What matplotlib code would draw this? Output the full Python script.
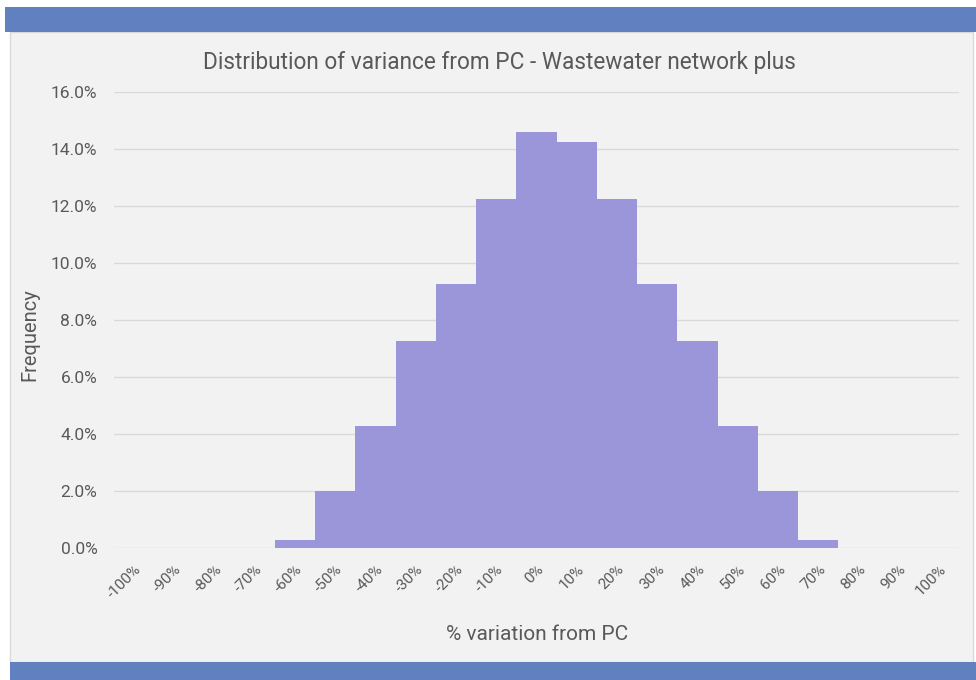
import matplotlib
matplotlib.use("Agg")
import matplotlib.pyplot as plt
from matplotlib.patches import Rectangle
from matplotlib.ticker import FuncFormatter

categories = ["-100%", "-90%", "-80%", "-70%", "-60%", "-50%", "-40%", "-30%", "-20%", "-10%",
              "0%", "10%", "20%", "30%", "40%", "50%", "60%", "70%", "80%", "90%", "100%"]
frequency = [0.0, 0.0, 0.0, 0.0, 0.0028, 0.020, 0.0428, 0.0726, 0.0926, 0.1225,
             0.1459, 0.1425, 0.1225, 0.0926, 0.0726, 0.0428, 0.020, 0.0028, 0.0, 0.0, 0.0]
y_ticks = [0.0, 0.02, 0.04, 0.06, 0.08, 0.10, 0.12, 0.14, 0.16]

plt.rcParams['font.family'] = ['Roboto', 'DejaVu Sans']
W, H = 976, 680
fig = plt.figure(figsize=(W / 100, H / 100), dpi=100)
fig.patch.set_facecolor('white')

def rect(x0, y0, x1, y1, **kw):
    fig.patches.append(Rectangle((x0 / W, 1 - y1 / H), (x1 - x0) / W, (y1 - y0) / H,
                                 transform=fig.transFigure, figure=fig, **kw))

text_color = '#595959'
rect(10, 32, 973, 662, facecolor='#f2f2f2', edgecolor='#d9d9d9', linewidth=1, zorder=0)
rect(5, 7, 976, 32, facecolor='#6180c0', edgecolor='none', zorder=1)
rect(10, 662, 976, 680, facecolor='#6180c0', edgecolor='none', zorder=1)

ax = fig.add_axes([114 / W, 1 - 548 / H, (959 - 114) / W, (548 - 92) / H])
ax.set_zorder(5)
ax.set_facecolor('none')
x = list(range(len(categories)))
ax.bar(x, frequency, width=1.0, color='#9b95d9', edgecolor='none', zorder=3)
ax.set_xlim(-0.5, len(categories) - 0.5)
ax.set_ylim(0, 0.16)
ax.set_yticks(y_ticks)
ax.yaxis.set_major_formatter(FuncFormatter(lambda v, p: f"{v*100:.1f}%"))
ax.grid(axis='y', color='#d9d9d9', linewidth=1, zorder=0)
ax.set_axisbelow(True)
for s in ax.spines.values():
    s.set_visible(False)
ax.tick_params(axis='both', length=0, colors=text_color)
ax.tick_params(axis='y', labelsize=12.5, pad=12)
ax.set_xticks(x)
ax.set_xticklabels(categories, rotation=45, ha='right', va='top', rotation_mode='anchor', fontsize=11)
ax.tick_params(axis='x', pad=10)

t = fig.text(499 / W, 1 - 62 / H, "Distribution of variance from PC - Wastewater network plus",
             ha='center', va='center', fontsize=16.3, color=text_color)
t.set_zorder(6)
fig.text(537 / W, 1 - 634 / H, "% variation from PC", ha='center', va='center',
         fontsize=15, color=text_color, zorder=6)
fig.text(30 / W, 1 - 335 / H, "Frequency", ha='center', va='center', rotation=90,
         fontsize=14.5, color=text_color, zorder=6)

fig.savefig("out.png", dpi=100)
